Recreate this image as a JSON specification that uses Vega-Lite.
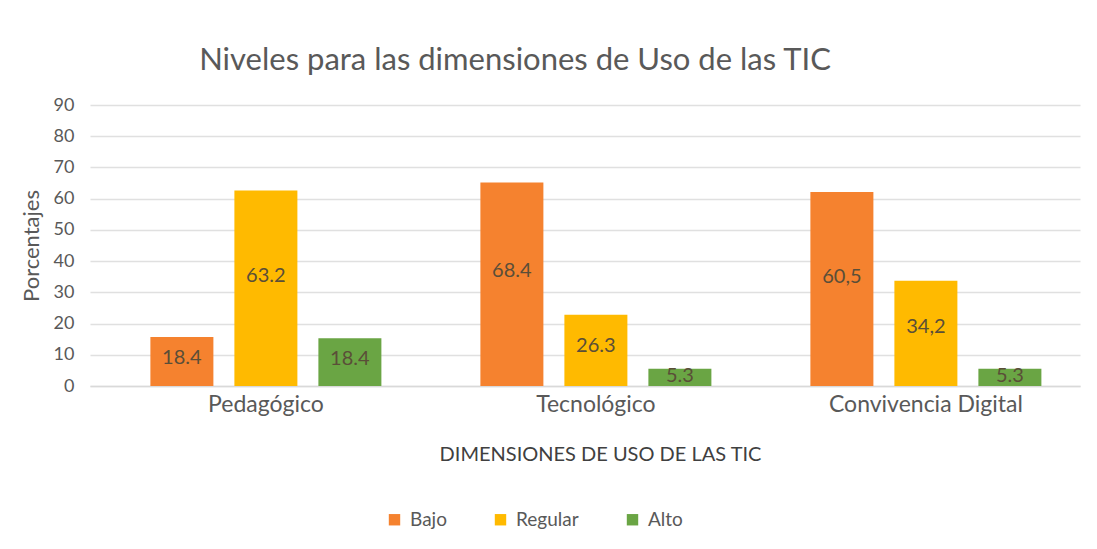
{
  "$schema": "https://vega.github.io/schema/vega-lite/v6.json",
  "autosize": {"type": "none"},
  "width": 990,
  "height": 281,
  "padding": {"left": 90, "top": 105, "right": 17, "bottom": 163},
  "background": "white",
  "config": {
    "font": "Lato",
    "view": {"stroke": null}
  },
  "title": {
    "text": "Niveles para las dimensiones de Uso de las TIC",
    "fontSize": 31,
    "font": "Lato",
    "fontWeight": "normal",
    "color": "#595959",
    "anchor": "middle",
    "dx": -70,
    "offset": 19
  },
  "data": {
    "values": [
      {"dimension": "Pedagógico", "nivel": "Bajo", "valor": 15.7, "etiqueta": "18.4"},
      {"dimension": "Pedagógico", "nivel": "Regular", "valor": 62.6, "etiqueta": "63.2"},
      {"dimension": "Pedagógico", "nivel": "Alto", "valor": 15.3, "etiqueta": "18.4"},
      {"dimension": "Tecnológico", "nivel": "Bajo", "valor": 65.2, "etiqueta": "68.4"},
      {"dimension": "Tecnológico", "nivel": "Regular", "valor": 22.8, "etiqueta": "26.3"},
      {"dimension": "Tecnológico", "nivel": "Alto", "valor": 5.5, "etiqueta": "5.3"},
      {"dimension": "Convivencia Digital", "nivel": "Bajo", "valor": 62.1, "etiqueta": "60,5"},
      {"dimension": "Convivencia Digital", "nivel": "Regular", "valor": 33.7, "etiqueta": "34,2"},
      {"dimension": "Convivencia Digital", "nivel": "Alto", "valor": 5.5, "etiqueta": "5.3"}
    ]
  },
  "encoding": {
    "x": {
      "field": "dimension",
      "type": "nominal",
      "sort": ["Pedagógico", "Tecnológico", "Convivencia Digital"],
      "scale": {"paddingInner": 0.3, "paddingOuter": 0.15, "align": 0.61},
      "axis": {
        "title": "DIMENSIONES DE USO DE LAS TIC",
        "titleFont": "Lato",
        "titleFontSize": 20,
        "titleFontWeight": "normal",
        "titleColor": "#404040",
        "titlePadding": 28,
        "titleX": 510,
        "labelAngle": 0,
        "labelFontSize": 23,
        "labelLimit": 400,
        "labelColor": "#595959",
        "labelPadding": 7,
        "ticks": false,
        "domainColor": "#d9d9d9",
        "domainWidth": 1.5
      }
    },
    "xOffset": {
      "field": "nivel",
      "type": "nominal",
      "sort": ["Bajo", "Regular", "Alto"],
      "scale": {"paddingInner": 0.25, "paddingOuter": 0}
    }
  },
  "layer": [
    {
      "mark": {"type": "bar"},
      "encoding": {
        "y": {
          "field": "valor",
          "type": "quantitative",
          "scale": {"domain": [0, 90]},
          "axis": {
            "title": "Porcentajes",
            "titleFontSize": 22,
            "titleFontWeight": "normal",
            "titleColor": "#595959",
            "titlePadding": 10,
            "values": [0, 10, 20, 30, 40, 50, 60, 70, 80, 90],
            "labelFontSize": 18,
            "labelColor": "#595959",
            "labelPadding": 16,
            "ticks": false,
            "domain": false,
            "gridColor": "#e0e0e0",
            "gridWidth": 1.5
          }
        },
        "color": {
          "field": "nivel",
          "type": "nominal",
          "sort": ["Bajo", "Regular", "Alto"],
          "scale": {"domain": ["Bajo", "Regular", "Alto"], "range": ["#F5822F", "#FFBA00", "#6AA544"]},
          "legend": {
            "title": null,
            "orient": "none",
            "direction": "horizontal",
            "legendX": 295,
            "legendY": 405,
            "symbolType": "square",
            "symbolSize": 130,
            "symbolStrokeWidth": 0,
            "labelFontSize": 19,
            "labelColor": "#595959",
            "columnPadding": 44,
            "labelOffset": 6
          }
        }
      }
    },
    {
      "mark": {"type": "text", "fontSize": 20, "color": "#5a4e38", "baseline": "middle"},
      "encoding": {
        "y": {
          "field": "valor",
          "type": "quantitative",
          "scale": {"domain": [0, 160]},
          "axis": null
        },
        "text": {"field": "etiqueta"}
      }
    }
  ],
  "resolve": {"scale": {"y": "independent"}}
}
